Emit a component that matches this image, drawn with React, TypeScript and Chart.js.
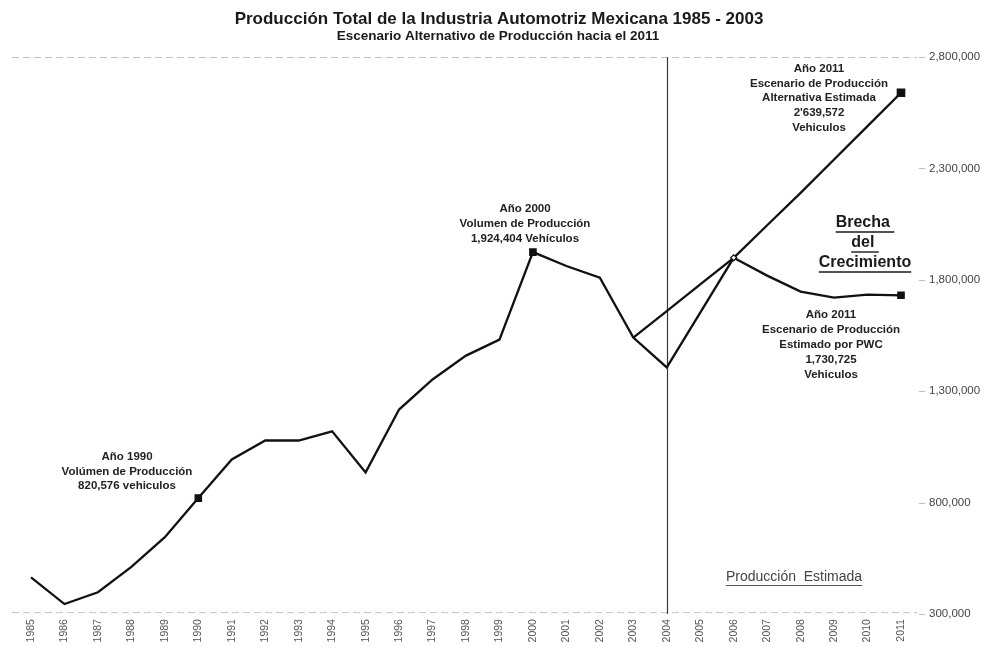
import React, { useEffect, useRef } from "react";
import { Chart, registerables } from "chart.js";

Chart.register(...registerables);

const years = [
  "1985", "1986", "1987", "1988", "1989", "1990", "1991", "1992", "1993",
  "1994", "1995", "1996", "1997", "1998", "1999", "2000", "2001", "2002",
  "2003", "2004", "2005", "2006", "2007", "2008", "2009", "2010", "2011",
];

// Producción histórica 1985-2003 y escenario estimado por PWC 2004-2011
const produccion = [
  465000, 345000, 398000, 512000, 645000, 820576, 994000, 1079000, 1079000,
  1120000, 936000, 1218000, 1353000, 1460000, 1532000, 1924404, 1862000, 1810000,
  1541000, 1407000, 1653000, 1899000, 1819000, 1747000, 1720000, 1734000, 1730725,
];

// Escenario alternativo de producción 2003-2011
const alternativa = [
  null, null, null, null, null, null, null, null, null,
  null, null, null, null, null, null, null, null, null,
  1541000, 1660000, 1780000, 1899000, 2045000, 2190000, 2340000, 2490000, 2639572,
];

const yTicks = [300000, 800000, 1300000, 1800000, 2300000, 2800000];

const title = "Producción Total de la Industria Automotriz Mexicana 1985 - 2003";
const subtitle = "Escenario Alternativo de Producción hacia el 2011";

const note1990 = ["Año 1990", "Volúmen de Producción", "820,576 vehiculos"];
const note2000 = ["Año 2000", "Volumen de Producción", "1,924,404 Vehículos"];
const note2011Alt = ["Año 2011", "Escenario de Producción", "Alternativa Estimada", "2'639,572", "Vehiculos"];
const note2011Pwc = ["Año 2011", "Escenario de Producción", "Estimado por PWC", "1,730,725", "Vehiculos"];
const brecha = ["Brecha ", "del ", "Crecimiento"];
const estimada = "Producción  Estimada";
const dividerYear = "2004";

const FONT = "'Liberation Sans', Arial, Helvetica, sans-serif";

const markerIdx1 = [5, 15, 26];
const hollowIdx1 = 21;

function drawLines(ctx: CanvasRenderingContext2D, lines: string[], cx: number, y0: number, step: number) {
  lines.forEach((t, i) => ctx.fillText(t, cx, y0 + i * step));
}

const overlayPlugin = {
  id: "overlay",
  beforeDatasetsDraw(chart: any) {
    const { ctx, chartArea } = chart;
    ctx.save();
    // top and bottom faint dashed lines
    ctx.strokeStyle = "#c4c4c4";
    ctx.lineWidth = 1;
    ctx.setLineDash([7, 4]);
    ctx.beginPath();
    ctx.moveTo(12, chartArea.top + 0.5);
    ctx.lineTo(chartArea.right + 16, chartArea.top + 0.5);
    ctx.moveTo(12, chartArea.bottom - 1.5);
    ctx.lineTo(chartArea.right + 16, chartArea.bottom - 1.5);
    ctx.stroke();
    ctx.setLineDash([]);
    // small tick dashes on the right axis
    const ys = chart.scales.y;
    ctx.strokeStyle = "#bdbdbd";
    ctx.beginPath();
    yTicks.forEach((v) => {
      const py = Math.round(ys.getPixelForValue(v)) + 0.5;
      ctx.moveTo(chartArea.right + 18, py);
      ctx.lineTo(chartArea.right + 24, py);
    });
    ctx.stroke();
    // vertical divider at 2004
    const xs = chart.scales.x;
    const xv = Math.round(xs.getPixelForValue(years.indexOf(dividerYear))) + 0.5;
    ctx.strokeStyle = "#3a3a3a";
    ctx.lineWidth = 1.2;
    ctx.beginPath();
    ctx.moveTo(xv, chartArea.top);
    ctx.lineTo(xv, chartArea.bottom);
    ctx.stroke();
    ctx.restore();
  },
  afterDraw(chart: any) {
    const { ctx } = chart;
    ctx.save();
    ctx.textAlign = "center";
    ctx.textBaseline = "middle";
    ctx.fillStyle = "#1a1a1a";
    ctx.font = `bold 17px ${FONT}`;
    ctx.fillText(title, 499, 19);
    ctx.font = `bold 13.5px ${FONT}`;
    ctx.fillText(subtitle, 498, 36);

    ctx.fillStyle = "#222";
    ctx.font = `bold 11.5px ${FONT}`;
    drawLines(ctx, note1990, 127, 457, 14.5);
    drawLines(ctx, note2000, 525, 209, 15);
    drawLines(ctx, note2011Alt, 819, 69, 14.6);
    drawLines(ctx, note2011Pwc, 831, 315, 15);

    // Brecha del Crecimiento
    ctx.font = `bold 16px ${FONT}`;
    ctx.fillStyle = "#1a1a1a";
    ctx.strokeStyle = "#1a1a1a";
    ctx.lineWidth = 1.4;
    brecha.forEach((t, i) => {
      const y = 223 + i * 20;
      ctx.fillText(t, 865, y);
      const w = ctx.measureText(t).width;
      ctx.beginPath();
      ctx.moveTo(865 - w / 2, y + 9);
      ctx.lineTo(865 + w / 2, y + 9);
      ctx.stroke();
    });

    // Producción Estimada
    ctx.font = `14px ${FONT}`;
    ctx.fillStyle = "#444";
    ctx.strokeStyle = "#555";
    ctx.lineWidth = 1;
    ctx.fillText(estimada, 794, 577);
    const w2 = ctx.measureText(estimada).width;
    ctx.beginPath();
    ctx.moveTo(794 - w2 / 2, 585.5);
    ctx.lineTo(794 + w2 / 2, 585.5);
    ctx.stroke();
    ctx.restore();
  },
};

export default function App() {
  const ref = useRef<HTMLCanvasElement | null>(null);

  useEffect(() => {
    if (!ref.current) return;
    const chart = new Chart(ref.current, {
      type: "line",
      data: {
        labels: years,
        datasets: [
          {
            label: "Producción",
            data: produccion,
            borderColor: "#111",
            borderWidth: 2.3,
            tension: 0,
            pointStyle: produccion.map((_, i) => (i === hollowIdx1 ? "rectRot" : "rect")) as any,
            pointRadius: produccion.map((_, i) => (markerIdx1.includes(i) ? 4.5 : i === hollowIdx1 ? 3 : 0)),
            pointBackgroundColor: produccion.map((_, i) => (i === hollowIdx1 ? "#fff" : "#111")),
            pointBorderColor: "#111",
            pointBorderWidth: 1.2,
          },
          {
            label: "Alternativa",
            data: alternativa,
            borderColor: "#111",
            borderWidth: 2.3,
            tension: 0,
            pointStyle: "rect",
            pointRadius: alternativa.map((_, i) => (i === alternativa.length - 1 ? 4.5 : 0)),
            pointBackgroundColor: "#111",
            pointBorderColor: "#111",
            spanGaps: false,
          },
        ],
      },
      options: {
        responsive: false,
        animation: false,
        events: [],
        layout: { padding: { top: 57, left: 31, right: 0, bottom: 0 } },
        plugins: { legend: { display: false }, tooltip: { enabled: false }, title: { display: false } },
        scales: {
          x: {
            type: "category",
            offset: false,
            grid: { display: false, drawTicks: false },
            border: { display: false },
            ticks: {
              autoSkip: false,
              maxRotation: 90,
              minRotation: 90,
              padding: 5,
              color: "#555",
              font: { family: FONT, size: 10.5 },
            },
            afterFit(scale: any) {
              scale.height = 34;
            },
          },
          y: {
            type: "linear",
            position: "right",
            min: 300000,
            max: 2800000,
            afterBuildTicks(scale: any) {
              scale.ticks = yTicks.map((v) => ({ value: v }));
            },
            grid: { drawOnChartArea: false, drawTicks: false },
            border: { display: false },
            ticks: {
              padding: 28,
              color: "#444",
              font: { family: FONT, size: 11.5 },
              callback: (v: any) => Number(v).toLocaleString("en-US"),
            },
            afterFit(scale: any) {
              scale.width = 84;
            },
          },
        },
      },
      plugins: [overlayPlugin],
    });
    return () => chart.destroy();
  }, []);

  return (
    <div style={{ position: "absolute", left: 0, top: 0, width: 985, height: 649, background: "#fff" }}>
      <canvas ref={ref} width={985} height={649} style={{ display: "block" }} />
    </div>
  );
}
